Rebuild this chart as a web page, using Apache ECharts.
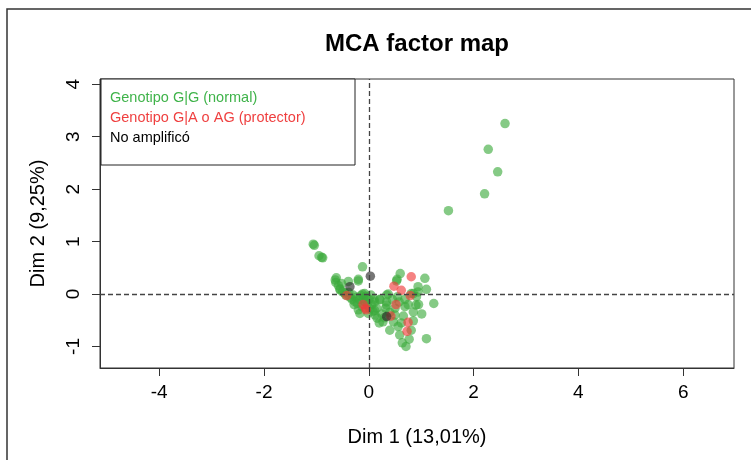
<!DOCTYPE html>
<html>
<head>
<meta charset="utf-8">
<script src="https://cdn.jsdelivr.net/npm/echarts@6/dist/echarts.min.js"></script>
<style>
  html, body { margin: 0; padding: 0; background: #fff; }
  #main { width: 751px; height: 460px; }
</style>
</head>
<body>
<div id="main"></div>
<script>
// tick labels
var xTicks = [-4, -2, 0, 2, 4, 6];
var yTicks = [-1, 0, 1, 2, 3, 4];

// individuals: [Dim 1, Dim 2]
var normalGG = [
  [2.60, 3.25], [2.28, 2.76], [2.46, 2.33], [2.21, 1.91], [1.52, 1.59],
  [-1.06, 0.95], [-1.04, 0.93], [-0.95, 0.73], [-0.90, 0.70], [-0.88, 0.69], [-0.12, 0.52],
  [-0.62, 0.31], [-0.64, 0.27], [-0.63, 0.22], [-0.52, 0.20], [-0.58, 0.16], [-0.55, 0.10],
  [-0.55, 0.08], [-0.39, 0.24], [-0.20, 0.25], [-0.20, 0.28], [-0.50, 0.04], [-0.46, 0.02],
  [-0.44, -0.02], [-0.38, 0.03], [-0.36, -0.06], [-0.32, -0.10], [-0.30, -0.02], [-0.27, -0.14],
  [-0.24, -0.06], [-0.22, -0.18], [-0.18, -0.10], [-0.15, -0.03], [-0.13, -0.24], [-0.10, -0.08],
  [-0.08, -0.15], [-0.05, -0.04], [-0.03, -0.20], [0.00, -0.10], [0.02, -0.28], [0.04, -0.02],
  [0.06, -0.20], [0.08, -0.33], [0.10, -0.10], [-0.17, -0.37], [-0.01, -0.37], [0.12, -0.40],
  [-0.12, 0.00], [-0.08, 0.01], [-0.28, -0.20], [-0.20, -0.30],
  [0.60, 0.39], [0.54, 0.28], [0.53, 0.25], [1.07, 0.30], [1.10, 0.09], [0.94, 0.14],
  [0.94, 0.04], [0.85, 0.01], [0.81, 0.01], [0.37, 0.00], [0.34, -0.02], [0.55, -0.05],
  [0.91, -0.05], [0.69, -0.10], [1.24, -0.18], [0.21, -0.10], [0.34, -0.15], [0.11, -0.15],
  [0.15, -0.27], [0.32, -0.27], [0.50, -0.27], [0.69, -0.24], [0.90, -0.21], [0.85, -0.34],
  [1.01, -0.38], [0.66, -0.42], [0.50, -0.40], [0.16, -0.46], [0.27, -0.53], [0.47, -0.53],
  [0.62, -0.55], [0.85, -0.51], [0.56, -0.62], [0.40, -0.69], [0.81, -0.69], [1.10, -0.85],
  [0.59, -0.78], [0.77, -0.86], [0.64, -0.93], [0.71, -1.00], [0.21, -0.11], [0.34, -0.21],
  [0.11, -0.31], [0.25, -0.38], [0.45, -0.10], [0.40, -0.35], [0.58, -0.15], [0.75, -0.20],
  [0.30, -0.45], [0.20, -0.55], [0.95, -0.20]
];
var protectorGA = [
  [0.81, 0.33], [0.48, 0.15], [0.62, 0.07], [0.79, -0.03], [0.52, -0.20], [0.42, -0.42],
  [0.75, -0.54], [0.73, -0.71], [-0.42, -0.03], [-0.11, -0.20], [-0.06, -0.27], [-0.05, -0.30]
];
var noAmplifico = [
  [0.03, 0.34], [-0.36, 0.14], [0.34, -0.43]
];

var legendItems = ['Genotipo G|G (normal)', 'Genotipo G|A o AG (protector)', 'No amplificó'];
var legendColors = ['#3fb34a', '#ef3f3f', '#000000'];

var font = '"Liberation Sans", Arial, sans-serif';
var myChart = echarts.init(document.getElementById('main'));

var legendGraphics = legendItems.map(function (name, i) {
  return {
    type: 'text', left: 110, top: 90 + i * 20, z: 10,
    style: { text: name, fill: legendColors[i], font: '14.5px ' + font }
  };
});

myChart.setOption({
  animation: false,
  backgroundColor: '#fff',
  grid: {
    left: 100, right: 17, top: 79, bottom: 92,
    show: true, borderColor: '#333', borderWidth: 1
  },
  xAxis: {
    type: 'value', min: -5.13, max: 6.97,
    name: 'Dim 1 (13,01%)', nameLocation: 'middle', nameGap: 59,
    nameTextStyle: { fontSize: 20, color: '#000', fontFamily: font },
    axisLine: { show: true, onZero: false, lineStyle: { color: '#333' } },
    axisTick: { show: true, length: 8, customValues: xTicks, lineStyle: { color: '#333' } },
    axisLabel: { customValues: xTicks, fontSize: 19, color: '#000', fontFamily: font, margin: 15 },
    splitLine: { show: false }
  },
  yAxis: {
    type: 'value', min: -1.41, max: 4.10,
    name: 'Dim 2 (9,25%)', nameLocation: 'middle', nameGap: 52, nameRotate: 90,
    nameTextStyle: { fontSize: 20, color: '#000', fontFamily: font },
    axisLine: { show: true, onZero: false, lineStyle: { color: '#333' } },
    axisTick: { show: true, length: 8, customValues: yTicks, lineStyle: { color: '#333' } },
    axisLabel: { customValues: yTicks, rotate: 90, fontSize: 19, color: '#000', fontFamily: font, margin: 17 },
    splitLine: { show: false }
  },
  graphic: [
    { type: 'rect', shape: { x: 7, y: 9, width: 800, height: 500 }, style: { fill: 'none', stroke: '#333', lineWidth: 1.5 } },
    { type: 'text', x: 417, y: 44, style: { text: 'MCA factor map', fill: '#000', font: 'bold 24px ' + font, textAlign: 'center', textVerticalAlign: 'middle' } },
    { type: 'rect', shape: { x: 101, y: 79, width: 254, height: 86 }, z: 9, style: { fill: '#fff', stroke: '#222', lineWidth: 1 } }
  ].concat(legendGraphics),
  series: [
    {
      name: legendItems[0], type: 'scatter', data: normalGG, symbolSize: 9.5,
      itemStyle: { color: 'rgba(60,170,60,0.78)' },
      markLine: {
        silent: true, symbol: 'none', label: { show: false },
        lineStyle: { color: '#444', type: [5, 3], width: 1.3 },
        data: [{ xAxis: 0 }, { yAxis: 0 }]
      }
    },
    {
      name: legendItems[1], type: 'scatter', data: protectorGA, symbolSize: 9.5,
      itemStyle: { color: 'rgba(240,60,60,0.8)' }
    },
    {
      name: legendItems[2], type: 'scatter', data: noAmplifico, symbolSize: 9.5,
      itemStyle: { color: 'rgba(40,40,40,0.8)' }
    }
  ]
});
</script>
</body>
</html>
